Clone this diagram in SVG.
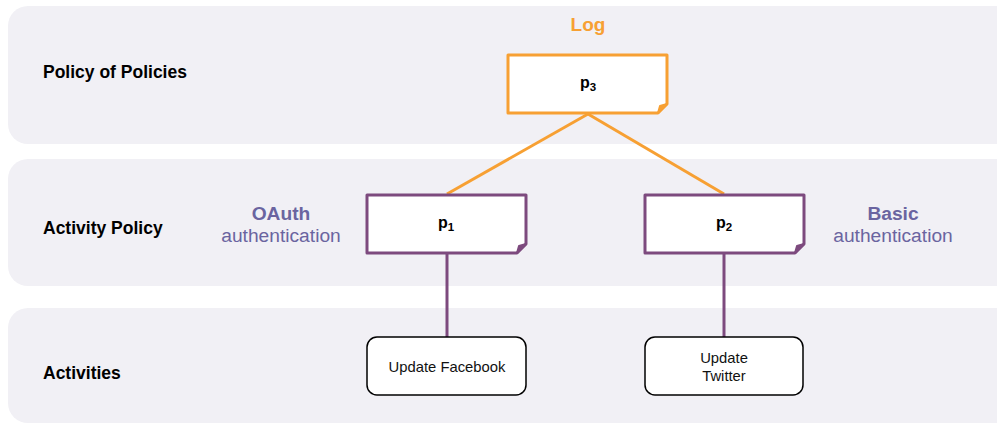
<svg xmlns="http://www.w3.org/2000/svg" width="997" height="424" viewBox="0 0 997 424">
<style>
.band{fill:#F1F0F5;}
.lane{font-family:"Liberation Sans",Arial,sans-serif;font-size:17.5px;font-weight:bold;fill:#000;}
.pol{fill:#fff;stroke-width:3;stroke-linejoin:round;}
.or{stroke:#F7A033;}
.pu{stroke:#7D4A7E;}
.ptxt{font-family:"Liberation Sans",Arial,sans-serif;font-size:16px;font-weight:bold;fill:#000;text-anchor:middle;}
.act{fill:#fff;stroke:#000;stroke-width:1.5;}
.atxt{font-family:"Liberation Sans",Arial,sans-serif;font-size:14.8px;fill:#111;text-anchor:middle;}
.lbl{font-family:"Liberation Sans",Arial,sans-serif;font-size:19.2px;fill:#6A64A0;text-anchor:middle;}
.conn{fill:none;stroke-width:3;}
</style>
<rect class="band" x="8" y="6" width="1010" height="138" rx="20"/>
<rect class="band" x="8" y="159" width="1010" height="127" rx="20"/>
<rect class="band" x="8" y="308" width="1010" height="115" rx="20"/>
<text class="lane" x="43" y="78">Policy of Policies</text>
<text class="lane" x="43" y="234">Activity Policy</text>
<text class="lane" x="43" y="379">Activities</text>
<g id="connectors">
<line class="conn or" x1="588" y1="114" x2="447" y2="194"/>
<line class="conn or" x1="588" y1="114" x2="724" y2="194"/>
<line class="conn pu" x1="447" y1="253" x2="447" y2="337"/>
<line class="conn pu" x1="724" y1="253" x2="724" y2="337"/>
</g>
<g id="p3">
<text x="588" y="31" font-family="Liberation Sans,Arial,sans-serif" font-size="19" font-weight="bold" fill="#F7A033" text-anchor="middle">Log</text>
<path class="pol or" d="M508,55 H667 V104 L658,113 H508 Z"/>
<path d="M667,104 L658,113 L660,106 Z" fill="#F7A033" stroke="#F7A033" stroke-width="2" stroke-linejoin="round"/>
<text class="ptxt" x="588" y="88">p<tspan font-size="11.5" dy="3">3</tspan></text>
</g>
<g id="p1">
<text class="lbl" x="281" y="220" font-weight="bold">OAuth</text>
<text class="lbl" x="281" y="242">authentication</text>
<path class="pol pu" d="M367,195 H526 V244 L517,253 H367 Z"/>
<path d="M526,244 L517,253 L519,246 Z" fill="#7D4A7E" stroke="#7D4A7E" stroke-width="2" stroke-linejoin="round"/>
<text class="ptxt" x="446" y="228">p<tspan font-size="11.5" dy="3">1</tspan></text>
</g>
<g id="p2">
<text class="lbl" x="893" y="220" font-weight="bold">Basic</text>
<text class="lbl" x="893" y="242">authentication</text>
<path class="pol pu" d="M645,195 H804 V244 L795,253 H645 Z"/>
<path d="M804,244 L795,253 L797,246 Z" fill="#7D4A7E" stroke="#7D4A7E" stroke-width="2" stroke-linejoin="round"/>
<text class="ptxt" x="724" y="228">p<tspan font-size="11.5" dy="3">2</tspan></text>
</g>
<g id="a1">
<rect class="act" x="367" y="337" width="159" height="58" rx="10"/>
<text class="atxt" x="447" y="372">Update Facebook</text>
</g>
<g id="a2">
<rect class="act" x="645" y="337" width="158" height="58" rx="10"/>
<text class="atxt" x="724" y="363">Update</text>
<text class="atxt" x="724" y="381">Twitter</text>
</g>
</svg>
